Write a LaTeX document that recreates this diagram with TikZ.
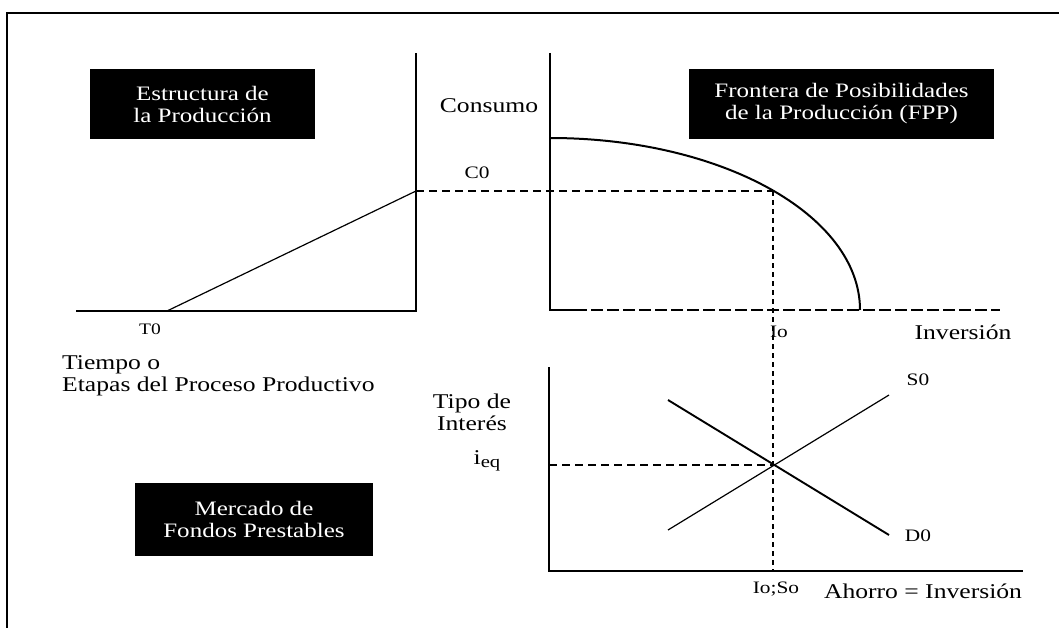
\documentclass[tikz,border=0pt]{standalone}
\usepackage{fontspec}
\setmainfont{Liberation Serif}[FakeStretch=1.22]
\begin{document}
\begin{tikzpicture}[x=1pt,y=-1pt,
  titulo/.style={fill=black,text=white,align=center,inner sep=0pt,font=\fontsize{20.5}{22}\selectfont},
  etiq/.style={inner sep=0pt,font=\fontsize{21}{22}\selectfont},
  chica/.style={inner sep=0pt,font=\fontsize{17.5}{18}\selectfont},
  guia/.style={line width=1.4pt,dash pattern=on 8pt off 5pt}]
\useasboundingbox (0,0) rectangle (1059,628);
\draw[line width=2pt](7,628)--(7,13)--(1059,13);
% estructura de la produccion
\draw[line width=1.5pt](76,311)--(416,311)--(416,53);
\coordinate (c0p) at (416,191);
\draw[line width=1.2pt](167,311)--(c0p);
\node[titulo,minimum width=225pt,minimum height=70pt] (estructura) at (202.5,104) {Estructura de\\la Producción};
\node[chica,font=\fontsize{16}{18}\selectfont] (t0) at (150,329) {T0};
\node[etiq,align=left,anchor=west] (tiempo) at (62,376) {Tiempo o\\Etapas del Proceso Productivo};
% FPP
\coordinate (fppc) at (773,191);
\draw[line width=2pt](550,53)--(550,310)--(575,310);
\draw[line width=1.6pt,dash pattern=on 12pt off 4pt](575,310)--(1000,310);
\draw[line width=2pt](550,138) arc[start angle=-90,end angle=0,x radius=310,y radius=172];
\draw[guia](c0p)--(fppc);
\node[titulo,minimum width=305pt,minimum height=70pt] (fpp) at (841.5,104) {Frontera de Posibilidades\\de la Producción (FPP)};
\node[etiq] (consumo) at (489,106) {Consumo};
\node[chica] (c0) at (477,173) {C0};
\node[chica] (io) at (779,332) {Io};
\node[etiq] (inversion) at (963,332) {Inversión};
% mercado de fondos prestables
\coordinate (eq) at (773,465);
\draw[line width=2.3pt](549,367)--(549,571)--(1023,571);
\draw[line width=1.4pt,dash pattern=on 5pt off 4pt](fppc)--(773,571);
\draw[guia,line width=1.7pt](549,465)--(eq);
\draw[line width=1.9pt](668,400)--(889,535);
\draw[line width=1.2pt](668,530)--(889,395);
\node[titulo,minimum width=238pt,minimum height=73pt] (mercado) at (254,519.5) {Mercado de\\Fondos Prestables};
\node[etiq,align=center] (tipo) at (472,412) {Tipo de\\Interés};
\node[etiq] (ieq) at (487,461) {i\raisebox{-3pt}{\fontsize{17}{17}\selectfont eq}};
\node[chica] (s0) at (918,380) {S0};
\node[chica] (d0) at (918,536) {D0};
\node[chica] (iso) at (776,589) {Io;So};
\node[etiq] (ahorro) at (923,591) {Ahorro = Inversión};
\end{tikzpicture}
\end{document}
